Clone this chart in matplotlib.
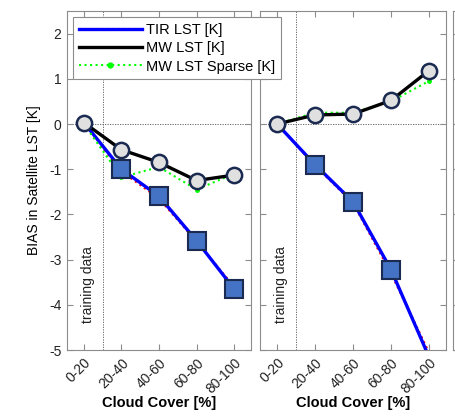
import matplotlib.pyplot as plt
from matplotlib.lines import Line2D
import numpy as np

plt.rcParams['font.family'] = ['Liberation Sans', 'DejaVu Sans']
plt.rcParams['axes.unicode_minus'] = False

# Dados
CATEGORIAS = ['0-20', '20-40', '40-60', '60-80', '80-100']

# painel esquerdo
tir_esq = [0.03, -1.0, -1.6, -2.58, -3.65]
tir_sparse_esq = [0.0, -1.05, -1.65, -2.6, -3.6]
mw_esq = [0.03, -0.57, -0.85, -1.25, -1.13]
mw_sparse_esq = [0.0, -1.18, -0.95, -1.45, -1.1]

# painel direito
tir_dir = [0.0, -0.9, -1.72, -3.22, -5.15]
tir_sparse_dir = [0.0, -0.92, -1.75, -3.3, -5.05]
mw_dir = [0.0, 0.2, 0.22, 0.52, 1.18]
mw_sparse_dir = [0.0, 0.25, 0.25, 0.5, 0.95]

YLIM = (-5, 2.5)
CINZA = '#8c8c8c'
AZUL_Q = '#4472c4'
NAVY = '#1a2a50'


def desenhar_painel(ax, tir, tir_sp, mw, mw_sp, rotulos_y=True):
    x = np.arange(len(CATEGORIAS))
    ax.axhline(0, color='#555555', ls=(0, (1.5, 1.5)), lw=0.6, zorder=1)
    ax.axvline(0.5, color='#555555', ls=(0, (1.5, 1.5)), lw=0.6, zorder=1)

    # quadrados so onde estao dentro do eixo (o primeiro fica atras do circulo)
    dentro = [i for i, v in enumerate(tir) if v >= YLIM[0] and i > 0]
    ax.plot(x, tir_sp, color='red', ls=':', lw=1.5, zorder=2)
    ax.plot(x, tir, color='blue', lw=2.4, zorder=3)
    ax.plot(x, mw_sp, color='lime', ls=':', lw=1.5, marker='.', ms=5, zorder=4)
    ax.plot(x, tir, ls='none', marker='s', ms=13, mfc=AZUL_Q, mec=NAVY,
            mew=1.5, markevery=dentro, zorder=5)
    ax.plot(x, mw, color='black', lw=2.4, zorder=6)
    ax.plot(x, mw, ls='none', marker='o', ms=11, mfc='#e0e0e0', mec=NAVY,
            mew=1.8, zorder=7)

    ax.text(0.1, -3.55, 'training data', rotation=90, ha='center', va='center',
            fontsize=10, color='#222222')

    ax.set_xlim(-0.45, 4.45)
    ax.set_ylim(*YLIM)
    ax.set_xticks(x)
    ax.set_xticklabels(CATEGORIAS, rotation=45, ha='right', rotation_mode='anchor')
    ax.set_yticks(np.arange(-5, 3, 1))
    if not rotulos_y:
        ax.set_yticklabels([])
    ax.tick_params(direction='in', top=True, right=True, length=4, color=CINZA,
                   labelsize=10, labelcolor='#222222', pad=4)
    for sp in ax.spines.values():
        sp.set_color(CINZA)
    ax.set_xlabel('Cloud Cover [%]', fontsize=10.5, fontweight='bold', labelpad=0)


fig = plt.figure(figsize=(4.55, 4.16), dpi=100)
ax1 = fig.add_axes([67 / 455, 1 - 350 / 416, 184 / 455, 339 / 416])
ax2 = fig.add_axes([260 / 455, 1 - 350 / 416, 186 / 455, 339 / 416])
ax3 = fig.add_axes([453 / 455, 1 - 350 / 416, 186 / 455, 339 / 416])

desenhar_painel(ax1, tir_esq, tir_sparse_esq, mw_esq, mw_sparse_esq)
desenhar_painel(ax2, tir_dir, tir_sparse_dir, mw_dir, mw_sparse_dir, rotulos_y=False)
ax1.set_ylabel('BIAS in Satellite LST [K]', fontsize=10, labelpad=6)

# terceiro painel (cortado)
ax3.set_ylim(*YLIM)
ax3.set_yticks(np.arange(-5, 3, 1))
ax3.set_xticks([])
ax3.set_yticklabels([])
ax3.tick_params(direction='in', length=4, color=CINZA)
for sp in ax3.spines.values():
    sp.set_color(CINZA)

# Legenda
h_tir = (Line2D([], [], color='red', ls=':', lw=1.5), Line2D([], [], color='blue', lw=2.4))
h_mw = Line2D([], [], color='black', lw=2.4)
h_sp = Line2D([], [], color='lime', ls=':', lw=1.5, marker='.', ms=7)
leg = fig.legend([h_tir, h_mw, h_sp], ['TIR LST [K]', 'MW LST [K]', 'MW LST Sparse [K]'],
                 loc='upper left', bbox_to_anchor=(73 / 455, 1 - 17 / 416),
                 borderaxespad=0, fontsize=10.5, handlelength=4.3, handletextpad=0.3,
                 labelspacing=0.3, borderpad=0.4, fancybox=False,
                 edgecolor=CINZA, framealpha=1)
leg.get_frame().set_linewidth(0.8)

plt.savefig('out.png', dpi=100)
